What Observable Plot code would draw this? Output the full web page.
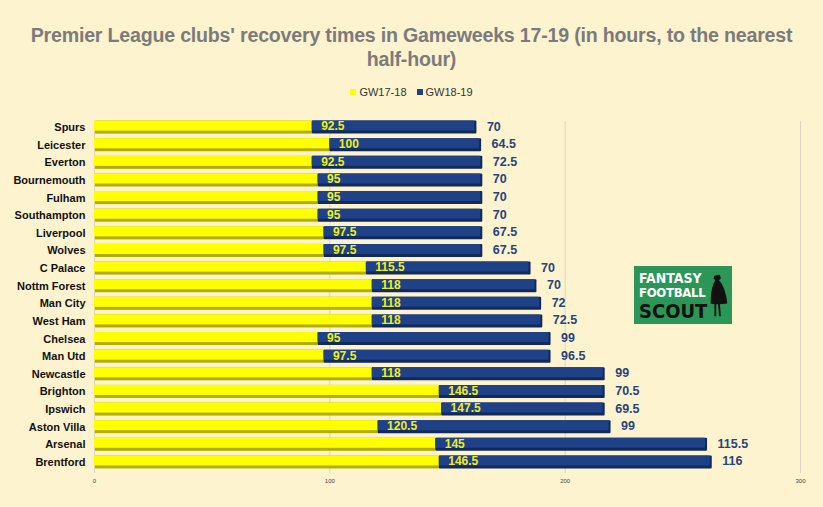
<!DOCTYPE html>
<html><head><meta charset="utf-8">
<script src="https://cdn.jsdelivr.net/npm/d3@7"></script>
<script src="https://cdn.jsdelivr.net/npm/@observablehq/plot@0.6"></script>
<style>
html,body{margin:0;padding:0;background:#fdf3cf;}
#wrap{position:relative;width:823px;height:507px;background:#fdf3cf;font-family:"Liberation Sans",Arial,sans-serif;overflow:hidden;}
#title{position:absolute;top:23px;left:0;width:823px;text-align:center;font-weight:bold;font-size:19.6px;line-height:24px;color:#7b7b7b;letter-spacing:-0.2px;}
#legend{position:absolute;top:86px;left:0;width:823px;text-align:center;font-size:11px;color:#333;}
#legend span.sw{display:inline-block;width:6px;height:6px;margin-right:3px;vertical-align:1px;}
#legend span.it{margin:0 5px;}
#chart{position:absolute;top:110px;left:0;}
#logo{position:absolute;left:634px;top:266px;width:98px;height:58px;background:#2c9656;font-family:"DejaVu Sans Condensed","Liberation Sans",sans-serif;font-weight:900;}
#logo div{position:absolute;left:5px;font-size:13px;line-height:14px;}
</style></head>
<body><div id="wrap">
<div id="title">Premier League clubs' recovery times in Gameweeks 17-19 (in hours, to the nearest<br>half-hour)</div>
<div id="legend"><span class="it"><span class="sw" style="background:#ffff00"></span>GW17-18</span><span class="it"><span class="sw" style="background:#1e4188"></span>GW18-19</span></div>
<div id="chart"></div>
<div id="logo">
<div style="top:5px;color:#fff;font-size:14px;">FANTASY</div>
<div style="top:20px;color:#fff;letter-spacing:-0.3px;">FOOTBALL</div>
<div style="top:35px;color:#111;font-size:20px;line-height:20px;">SCOUT</div>
<svg style="position:absolute;left:73px;top:6px" width="24" height="48" viewBox="0 0 26 48"><path d="M8 2 L14 1 L15 5 L13 7 Q20 14 22 32 L14 33 L15 46 L13 46 L12 33 L10 33 L10 46 L8 46 L8 33 L4 32 Q4 14 9 7 L7 5 Z" fill="#111"/></svg>
</div>
</div>
<script>
const clubs = ["Spurs","Leicester","Everton","Bournemouth","Fulham","Southampton","Liverpool","Wolves","C Palace","Nottm Forest","Man City","West Ham","Chelsea","Man Utd","Newcastle","Brighton","Ipswich","Aston Villa","Arsenal","Brentford"];
const gw1718 = [92.5,100,92.5,95,95,95,97.5,97.5,115.5,118,118,118,95,97.5,118,146.5,147.5,120.5,145,146.5];
const gw1819 = [70,64.5,72.5,70,70,70,67.5,67.5,70,70,72,72.5,99,96.5,99,70.5,69.5,99,115.5,116];
const xTicks = [0,100,200,300];

const rows = clubs.map((c,i)=>({club:c, a:gw1718[i], b:gw1819[i], total:gw1718[i]+gw1819[i]}));

const chart = Plot.plot({
  width: 823,
  height: 397,
  marginLeft: 94,
  marginRight: 23,
  marginTop: 6,
  marginBottom: 34,
  style: {background: "transparent", fontFamily: "Liberation Sans, Arial, sans-serif"},
  x: {domain: [0,300]},
  y: {domain: clubs, padding: 0.26, round: false},
  marks: [
    Plot.gridX(xTicks, {stroke: "#ddd5bb", strokeOpacity: 1, insetTop: 5, insetBottom: 0}),
    Plot.barX(rows, {y: "club", x1: 0, x2: "a", fill: "#b3ad00", insetLeft: 1}),
    Plot.barX(rows, {y: "club", x1: "a", x2: "total", fill: "#112a5a", rx: 1}),
    Plot.barX(rows, {y: "club", x1: 0, x2: "a", fill: "#ffff00", insetBottom: 3}),
    Plot.barX(rows, {y: "club", x1: "a", x2: "total", fill: "#1e4188", insetBottom: 3, insetRight: 2, rx: 1}),
    Plot.text(rows, {y: "club", x: "a", text: d => String(d.a), textAnchor: "start", dx: 9, dy: -1, fill: "#f2ee1c", fontWeight: "bold", fontSize: 12}),
    Plot.text(rows, {y: "club", x: "total", text: d => String(d.b), textAnchor: "start", dx: 10, dy: -1, fill: "#27447c", fontWeight: "bold", fontSize: 12.5}),
    Plot.axisY({tickSize: 0, tickPadding: 9, fontWeight: "bold", fontSize: 11, fill: "#111", label: null}),
    Plot.axisX(xTicks, {tickSize: 0, tickPadding: 5, fontSize: 6, fill: "#444", label: null})
  ]
});
document.getElementById("chart").appendChild(chart);
</script>
</body></html>
